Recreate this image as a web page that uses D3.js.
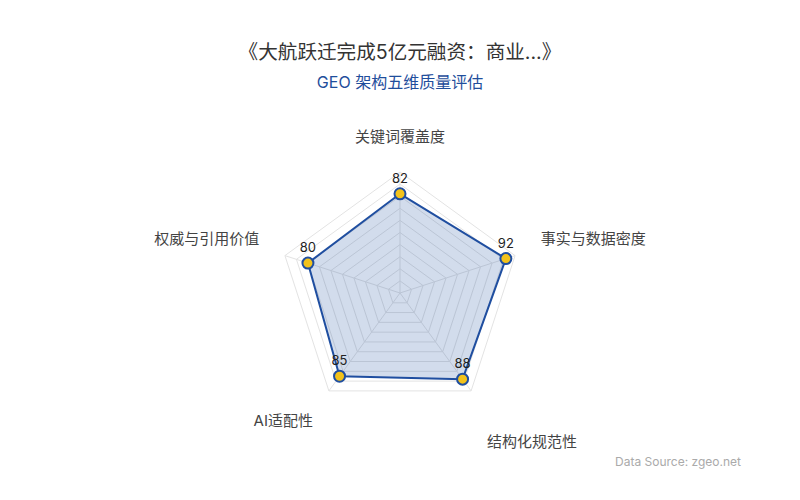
<!DOCTYPE html>
<html>
<head>
<meta charset="utf-8">
<script src="https://cdn.jsdelivr.net/npm/d3@7"></script>
<style>
  html, body { margin: 0; padding: 0; background: #fff; }
  svg { display: block; font-family: Inter, "Noto Sans CJK SC", sans-serif; }
</style>
</head>
<body>
<svg id="chart" width="800" height="500"></svg>
<script>
const axisNames = ["关键词覆盖度", "事实与数据密度", "结构化规范性", "AI适配性", "权威与引用价值"];
const scores = [82, 92, 88, 85, 80];
const maxScore = 100;
const ringCount = 10;
// small vertical nudges for the axis names, in px
const nameNudge = [0, 0, 21, 0, 0];

const svg = d3.select("#chart");
const cx = 400, cy = 293, radius = 121;

svg.append("text").attr("x", 400).attr("y", 59).attr("text-anchor", "middle")
  .attr("fill", "#333").style("font-size", "19.6px")
  .text("《大航跃迁完成5亿元融资：商业...》");
svg.append("text").attr("x", 400).attr("y", 88).attr("text-anchor", "middle")
  .attr("fill", "#1f4e9c").style("font-size", "16px")
  .text("GEO 架构五维质量评估");
svg.append("text").attr("x", 741).attr("y", 466).attr("text-anchor", "end")
  .attr("fill", "#aaa").style("font-size", "12px")
  .text("Data Source: zgeo.net");

const r = d3.scaleLinear().domain([0, maxScore]).range([0, radius]);
const angle = d3.scaleLinear().domain([0, axisNames.length]).range([0, 2 * Math.PI]);
const point = (i, v) => [cx + r(v) * Math.sin(angle(i)), cy - r(v) * Math.cos(angle(i))];

const g = svg.append("g");
const ringLevels = d3.range(1, ringCount + 1).map((k) => (maxScore / ringCount) * k);
const lineGen = d3.line();

g.selectAll("path.ring").data(ringLevels).join("path")
  .attr("class", "ring")
  .attr("d", (lv) => lineGen(axisNames.map((_, i) => point(i, lv))) + "Z")
  .attr("fill", "none").attr("stroke", "#e3e3e3").attr("stroke-width", 1);

g.selectAll("line.spoke").data(axisNames).join("line")
  .attr("class", "spoke")
  .attr("x1", cx).attr("y1", cy)
  .attr("x2", (_, i) => point(i, maxScore)[0])
  .attr("y2", (_, i) => point(i, maxScore)[1])
  .attr("stroke", "#e3e3e3").attr("stroke-width", 1);

const dataPts = scores.map((v, i) => point(i, v));
g.append("path").attr("d", lineGen(dataPts) + "Z")
  .attr("fill", "rgba(31,78,160,0.2)")
  .attr("stroke", "#1f4ea0").attr("stroke-width", 2).attr("stroke-linejoin", "round");

g.selectAll("circle.dot").data(dataPts).join("circle")
  .attr("class", "dot")
  .attr("cx", (d) => d[0]).attr("cy", (d) => d[1]).attr("r", 5.5)
  .attr("fill", "#f2c21b").attr("stroke", "#1f4ea0").attr("stroke-width", 2);

g.selectAll("text.val").data(scores).join("text")
  .attr("class", "val")
  .attr("x", (_, i) => dataPts[i][0]).attr("y", (_, i) => dataPts[i][1] - 11)
  .attr("text-anchor", "middle").attr("fill", "#222").style("font-size", "13px")
  .text((d) => d);

g.selectAll("text.axisName").data(axisNames).join("text")
  .attr("class", "axisName")
  .each(function (name, i) {
    const a = angle(i);
    const sx = Math.sin(a), cyv = -Math.cos(a);
    const [x, y] = point(i, maxScore * (radius + 27) / radius);
    const anchor = Math.abs(sx) < 0.01 ? "middle" : sx > 0 ? "start" : "end";
    const base = cyv < -0.01 ? "auto" : "hanging";
    d3.select(this)
      .attr("x", x).attr("y", y + nameNudge[i] + (cyv < -0.01 ? -3 : 1))
      .attr("text-anchor", anchor).attr("dominant-baseline", base)
      .attr("fill", "#444").style("font-size", "15px")
      .text(name);
  });
</script>
</body>
</html>
